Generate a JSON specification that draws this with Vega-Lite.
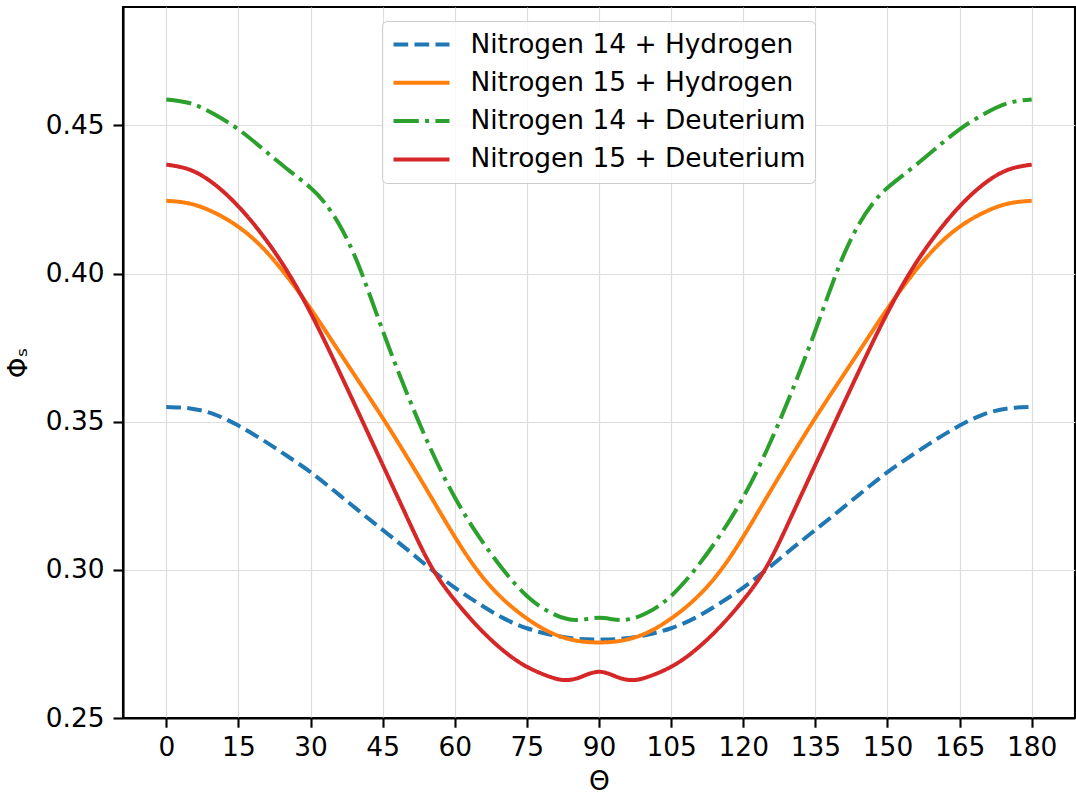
{
  "$schema": "https://vega.github.io/schema/vega-lite/v6.json",
  "width": 952,
  "height": 711,
  "autosize": {"type": "none"},
  "padding": {"left": 123, "top": 7, "right": 1, "bottom": 77},
  "background": "white",
  "config": {
    "font": "DejaVu Sans",
    "view": {"stroke": "black", "strokeWidth": 2.1},
    "axis": {
      "labelFont": "DejaVu Sans",
      "titleFont": "DejaVu Sans",
      "labelFontSize": 26.4,
      "titleFontSize": 26.4,
      "titleFontWeight": "normal",
      "labelColor": "black",
      "titleColor": "black",
      "domainColor": "black",
      "domainWidth": 2.1,
      "tickColor": "black",
      "tickWidth": 2.1,
      "tickSize": 9.2,
      "labelPadding": 7,
      "gridColor": "#dddddd",
      "gridWidth": 1.2
    }
  },
  "data": {
    "values": [
      {"theta": 0, "phi": 0.355, "series": "Nitrogen 14 + Hydrogen"},
      {"theta": 5, "phi": 0.3545, "series": "Nitrogen 14 + Hydrogen"},
      {"theta": 10, "phi": 0.3525, "series": "Nitrogen 14 + Hydrogen"},
      {"theta": 15, "phi": 0.3487, "series": "Nitrogen 14 + Hydrogen"},
      {"theta": 20, "phi": 0.3439, "series": "Nitrogen 14 + Hydrogen"},
      {"theta": 25, "phi": 0.3386, "series": "Nitrogen 14 + Hydrogen"},
      {"theta": 30, "phi": 0.333, "series": "Nitrogen 14 + Hydrogen"},
      {"theta": 35, "phi": 0.3266, "series": "Nitrogen 14 + Hydrogen"},
      {"theta": 40, "phi": 0.32, "series": "Nitrogen 14 + Hydrogen"},
      {"theta": 45, "phi": 0.3135, "series": "Nitrogen 14 + Hydrogen"},
      {"theta": 50, "phi": 0.307, "series": "Nitrogen 14 + Hydrogen"},
      {"theta": 55, "phi": 0.3003, "series": "Nitrogen 14 + Hydrogen"},
      {"theta": 60, "phi": 0.2940, "series": "Nitrogen 14 + Hydrogen"},
      {"theta": 65, "phi": 0.2886, "series": "Nitrogen 14 + Hydrogen"},
      {"theta": 70, "phi": 0.2838, "series": "Nitrogen 14 + Hydrogen"},
      {"theta": 75, "phi": 0.2803, "series": "Nitrogen 14 + Hydrogen"},
      {"theta": 80, "phi": 0.2781, "series": "Nitrogen 14 + Hydrogen"},
      {"theta": 85, "phi": 0.2768, "series": "Nitrogen 14 + Hydrogen"},
      {"theta": 90, "phi": 0.2765, "series": "Nitrogen 14 + Hydrogen"},
      {"theta": 95, "phi": 0.2768, "series": "Nitrogen 14 + Hydrogen"},
      {"theta": 100, "phi": 0.2781, "series": "Nitrogen 14 + Hydrogen"},
      {"theta": 105, "phi": 0.2803, "series": "Nitrogen 14 + Hydrogen"},
      {"theta": 110, "phi": 0.2838, "series": "Nitrogen 14 + Hydrogen"},
      {"theta": 115, "phi": 0.2886, "series": "Nitrogen 14 + Hydrogen"},
      {"theta": 120, "phi": 0.2940, "series": "Nitrogen 14 + Hydrogen"},
      {"theta": 125, "phi": 0.3003, "series": "Nitrogen 14 + Hydrogen"},
      {"theta": 130, "phi": 0.307, "series": "Nitrogen 14 + Hydrogen"},
      {"theta": 135, "phi": 0.3135, "series": "Nitrogen 14 + Hydrogen"},
      {"theta": 140, "phi": 0.32, "series": "Nitrogen 14 + Hydrogen"},
      {"theta": 145, "phi": 0.3266, "series": "Nitrogen 14 + Hydrogen"},
      {"theta": 150, "phi": 0.333, "series": "Nitrogen 14 + Hydrogen"},
      {"theta": 155, "phi": 0.3386, "series": "Nitrogen 14 + Hydrogen"},
      {"theta": 160, "phi": 0.3439, "series": "Nitrogen 14 + Hydrogen"},
      {"theta": 165, "phi": 0.3487, "series": "Nitrogen 14 + Hydrogen"},
      {"theta": 170, "phi": 0.3525, "series": "Nitrogen 14 + Hydrogen"},
      {"theta": 175, "phi": 0.3545, "series": "Nitrogen 14 + Hydrogen"},
      {"theta": 180, "phi": 0.355, "series": "Nitrogen 14 + Hydrogen"},

      {"theta": 0, "phi": 0.4246, "series": "Nitrogen 15 + Hydrogen"},
      {"theta": 5, "phi": 0.4236, "series": "Nitrogen 15 + Hydrogen"},
      {"theta": 10, "phi": 0.4206, "series": "Nitrogen 15 + Hydrogen"},
      {"theta": 15, "phi": 0.4158, "series": "Nitrogen 15 + Hydrogen"},
      {"theta": 20, "phi": 0.4088, "series": "Nitrogen 15 + Hydrogen"},
      {"theta": 25, "phi": 0.3993, "series": "Nitrogen 15 + Hydrogen"},
      {"theta": 30, "phi": 0.3882, "series": "Nitrogen 15 + Hydrogen"},
      {"theta": 35, "phi": 0.3760, "series": "Nitrogen 15 + Hydrogen"},
      {"theta": 40, "phi": 0.3637, "series": "Nitrogen 15 + Hydrogen"},
      {"theta": 45, "phi": 0.3513, "series": "Nitrogen 15 + Hydrogen"},
      {"theta": 50, "phi": 0.3383, "series": "Nitrogen 15 + Hydrogen"},
      {"theta": 55, "phi": 0.3248, "series": "Nitrogen 15 + Hydrogen"},
      {"theta": 60, "phi": 0.3112, "series": "Nitrogen 15 + Hydrogen"},
      {"theta": 65, "phi": 0.2992, "series": "Nitrogen 15 + Hydrogen"},
      {"theta": 70, "phi": 0.2902, "series": "Nitrogen 15 + Hydrogen"},
      {"theta": 75, "phi": 0.2836, "series": "Nitrogen 15 + Hydrogen"},
      {"theta": 80, "phi": 0.2788, "series": "Nitrogen 15 + Hydrogen"},
      {"theta": 85, "phi": 0.2762, "series": "Nitrogen 15 + Hydrogen"},
      {"theta": 90, "phi": 0.2755, "series": "Nitrogen 15 + Hydrogen"},
      {"theta": 95, "phi": 0.2762, "series": "Nitrogen 15 + Hydrogen"},
      {"theta": 100, "phi": 0.2788, "series": "Nitrogen 15 + Hydrogen"},
      {"theta": 105, "phi": 0.2836, "series": "Nitrogen 15 + Hydrogen"},
      {"theta": 110, "phi": 0.2902, "series": "Nitrogen 15 + Hydrogen"},
      {"theta": 115, "phi": 0.2992, "series": "Nitrogen 15 + Hydrogen"},
      {"theta": 120, "phi": 0.3112, "series": "Nitrogen 15 + Hydrogen"},
      {"theta": 125, "phi": 0.3248, "series": "Nitrogen 15 + Hydrogen"},
      {"theta": 130, "phi": 0.3383, "series": "Nitrogen 15 + Hydrogen"},
      {"theta": 135, "phi": 0.3513, "series": "Nitrogen 15 + Hydrogen"},
      {"theta": 140, "phi": 0.3637, "series": "Nitrogen 15 + Hydrogen"},
      {"theta": 145, "phi": 0.3760, "series": "Nitrogen 15 + Hydrogen"},
      {"theta": 150, "phi": 0.3882, "series": "Nitrogen 15 + Hydrogen"},
      {"theta": 155, "phi": 0.3993, "series": "Nitrogen 15 + Hydrogen"},
      {"theta": 160, "phi": 0.4088, "series": "Nitrogen 15 + Hydrogen"},
      {"theta": 165, "phi": 0.4158, "series": "Nitrogen 15 + Hydrogen"},
      {"theta": 170, "phi": 0.4206, "series": "Nitrogen 15 + Hydrogen"},
      {"theta": 175, "phi": 0.4236, "series": "Nitrogen 15 + Hydrogen"},
      {"theta": 180, "phi": 0.4246, "series": "Nitrogen 15 + Hydrogen"},

      {"theta": 0, "phi": 0.4588, "series": "Nitrogen 14 + Deuterium"},
      {"theta": 5, "phi": 0.4575, "series": "Nitrogen 14 + Deuterium"},
      {"theta": 10, "phi": 0.4538, "series": "Nitrogen 14 + Deuterium"},
      {"theta": 15, "phi": 0.4487, "series": "Nitrogen 14 + Deuterium"},
      {"theta": 20, "phi": 0.4422, "series": "Nitrogen 14 + Deuterium"},
      {"theta": 25, "phi": 0.4355, "series": "Nitrogen 14 + Deuterium"},
      {"theta": 30, "phi": 0.4290, "series": "Nitrogen 14 + Deuterium"},
      {"theta": 33, "phi": 0.4238, "series": "Nitrogen 14 + Deuterium"},
      {"theta": 36, "phi": 0.4165, "series": "Nitrogen 14 + Deuterium"},
      {"theta": 40, "phi": 0.4028, "series": "Nitrogen 14 + Deuterium"},
      {"theta": 45, "phi": 0.3808, "series": "Nitrogen 14 + Deuterium"},
      {"theta": 50, "phi": 0.3598, "series": "Nitrogen 14 + Deuterium"},
      {"theta": 55, "phi": 0.3408, "series": "Nitrogen 14 + Deuterium"},
      {"theta": 60, "phi": 0.3245, "series": "Nitrogen 14 + Deuterium"},
      {"theta": 65, "phi": 0.3113, "series": "Nitrogen 14 + Deuterium"},
      {"theta": 70, "phi": 0.3002, "series": "Nitrogen 14 + Deuterium"},
      {"theta": 75, "phi": 0.2912, "series": "Nitrogen 14 + Deuterium"},
      {"theta": 80, "phi": 0.2855, "series": "Nitrogen 14 + Deuterium"},
      {"theta": 85, "phi": 0.2831, "series": "Nitrogen 14 + Deuterium"},
      {"theta": 90, "phi": 0.2838, "series": "Nitrogen 14 + Deuterium"},
      {"theta": 95, "phi": 0.2831, "series": "Nitrogen 14 + Deuterium"},
      {"theta": 100, "phi": 0.2855, "series": "Nitrogen 14 + Deuterium"},
      {"theta": 105, "phi": 0.2912, "series": "Nitrogen 14 + Deuterium"},
      {"theta": 110, "phi": 0.3002, "series": "Nitrogen 14 + Deuterium"},
      {"theta": 115, "phi": 0.3113, "series": "Nitrogen 14 + Deuterium"},
      {"theta": 120, "phi": 0.3245, "series": "Nitrogen 14 + Deuterium"},
      {"theta": 125, "phi": 0.3408, "series": "Nitrogen 14 + Deuterium"},
      {"theta": 130, "phi": 0.3598, "series": "Nitrogen 14 + Deuterium"},
      {"theta": 135, "phi": 0.3808, "series": "Nitrogen 14 + Deuterium"},
      {"theta": 140, "phi": 0.4028, "series": "Nitrogen 14 + Deuterium"},
      {"theta": 144, "phi": 0.4165, "series": "Nitrogen 14 + Deuterium"},
      {"theta": 147, "phi": 0.4238, "series": "Nitrogen 14 + Deuterium"},
      {"theta": 150, "phi": 0.4290, "series": "Nitrogen 14 + Deuterium"},
      {"theta": 155, "phi": 0.4355, "series": "Nitrogen 14 + Deuterium"},
      {"theta": 160, "phi": 0.4422, "series": "Nitrogen 14 + Deuterium"},
      {"theta": 165, "phi": 0.4487, "series": "Nitrogen 14 + Deuterium"},
      {"theta": 170, "phi": 0.4538, "series": "Nitrogen 14 + Deuterium"},
      {"theta": 175, "phi": 0.4575, "series": "Nitrogen 14 + Deuterium"},
      {"theta": 180, "phi": 0.4588, "series": "Nitrogen 14 + Deuterium"},

      {"theta": 0, "phi": 0.4368, "series": "Nitrogen 15 + Deuterium"},
      {"theta": 5, "phi": 0.4350, "series": "Nitrogen 15 + Deuterium"},
      {"theta": 10, "phi": 0.4302, "series": "Nitrogen 15 + Deuterium"},
      {"theta": 15, "phi": 0.4227, "series": "Nitrogen 15 + Deuterium"},
      {"theta": 20, "phi": 0.4130, "series": "Nitrogen 15 + Deuterium"},
      {"theta": 25, "phi": 0.4012, "series": "Nitrogen 15 + Deuterium"},
      {"theta": 30, "phi": 0.3868, "series": "Nitrogen 15 + Deuterium"},
      {"theta": 35, "phi": 0.3703, "series": "Nitrogen 15 + Deuterium"},
      {"theta": 40, "phi": 0.3530, "series": "Nitrogen 15 + Deuterium"},
      {"theta": 45, "phi": 0.3355, "series": "Nitrogen 15 + Deuterium"},
      {"theta": 50, "phi": 0.3180, "series": "Nitrogen 15 + Deuterium"},
      {"theta": 55, "phi": 0.3015, "series": "Nitrogen 15 + Deuterium"},
      {"theta": 60, "phi": 0.2898, "series": "Nitrogen 15 + Deuterium"},
      {"theta": 65, "phi": 0.2805, "series": "Nitrogen 15 + Deuterium"},
      {"theta": 70, "phi": 0.2729, "series": "Nitrogen 15 + Deuterium"},
      {"theta": 75, "phi": 0.2673, "series": "Nitrogen 15 + Deuterium"},
      {"theta": 80, "phi": 0.2638, "series": "Nitrogen 15 + Deuterium"},
      {"theta": 83, "phi": 0.2628, "series": "Nitrogen 15 + Deuterium"},
      {"theta": 86, "phi": 0.2637, "series": "Nitrogen 15 + Deuterium"},
      {"theta": 90, "phi": 0.2656, "series": "Nitrogen 15 + Deuterium"},
      {"theta": 94, "phi": 0.2637, "series": "Nitrogen 15 + Deuterium"},
      {"theta": 97, "phi": 0.2628, "series": "Nitrogen 15 + Deuterium"},
      {"theta": 100, "phi": 0.2638, "series": "Nitrogen 15 + Deuterium"},
      {"theta": 105, "phi": 0.2673, "series": "Nitrogen 15 + Deuterium"},
      {"theta": 110, "phi": 0.2729, "series": "Nitrogen 15 + Deuterium"},
      {"theta": 115, "phi": 0.2805, "series": "Nitrogen 15 + Deuterium"},
      {"theta": 120, "phi": 0.2898, "series": "Nitrogen 15 + Deuterium"},
      {"theta": 125, "phi": 0.3015, "series": "Nitrogen 15 + Deuterium"},
      {"theta": 130, "phi": 0.3180, "series": "Nitrogen 15 + Deuterium"},
      {"theta": 135, "phi": 0.3355, "series": "Nitrogen 15 + Deuterium"},
      {"theta": 140, "phi": 0.3530, "series": "Nitrogen 15 + Deuterium"},
      {"theta": 145, "phi": 0.3703, "series": "Nitrogen 15 + Deuterium"},
      {"theta": 150, "phi": 0.3868, "series": "Nitrogen 15 + Deuterium"},
      {"theta": 155, "phi": 0.4012, "series": "Nitrogen 15 + Deuterium"},
      {"theta": 160, "phi": 0.4130, "series": "Nitrogen 15 + Deuterium"},
      {"theta": 165, "phi": 0.4227, "series": "Nitrogen 15 + Deuterium"},
      {"theta": 170, "phi": 0.4302, "series": "Nitrogen 15 + Deuterium"},
      {"theta": 175, "phi": 0.4350, "series": "Nitrogen 15 + Deuterium"},
      {"theta": 180, "phi": 0.4368, "series": "Nitrogen 15 + Deuterium"}
    ]
  },
  "mark": {"type": "line", "strokeWidth": 4, "interpolate": "natural", "strokeCap": "butt", "clip": true},
  "encoding": {
    "x": {
      "field": "theta",
      "type": "quantitative",
      "scale": {"domain": [-9, 189], "nice": false, "zero": false},
      "axis": {"title": "Θ", "values": [0, 15, 30, 45, 60, 75, 90, 105, 120, 135, 150, 165, 180], "titlePadding": 8}
    },
    "y": {
      "field": "phi",
      "type": "quantitative",
      "scale": {"domain": [0.25, 0.49], "nice": false, "zero": false},
      "axis": {"title": "Φₛ", "values": [0.25, 0.3, 0.35, 0.4, 0.45], "format": ".2f", "tickSize": 10, "labelPadding": 9, "titlePadding": 13}
    },
    "color": {
      "field": "series",
      "type": "nominal",
      "scale": {
        "domain": ["Nitrogen 14 + Hydrogen", "Nitrogen 15 + Hydrogen", "Nitrogen 14 + Deuterium", "Nitrogen 15 + Deuterium"],
        "range": ["#1f77b4", "#ff7f0e", "#2ca02c", "#d62728"]
      },
      "legend": {
        "title": null,
        "orient": "none",
        "legendX": 259,
        "legendY": 14,
        "direction": "vertical",
        "symbolType": "stroke",
        "symbolSize": 3136,
        "symbolStrokeWidth": 4,
        "labelFontSize": 26.4,
        "labelFont": "DejaVu Sans",
        "labelColor": "black",
        "labelOffset": 19,
        "labelLimit": 600,
        "padding": 9.5,
        "clipHeight": 28,
        "rowPadding": 10.3,
        "strokeColor": "#cccccc",
        "cornerRadius": 5,
        "fillColor": "rgba(255,255,255,0.8)"
      }
    },
    "strokeDash": {
      "field": "series",
      "type": "nominal",
      "scale": {
        "domain": ["Nitrogen 14 + Hydrogen", "Nitrogen 15 + Hydrogen", "Nitrogen 14 + Deuterium", "Nitrogen 15 + Deuterium"],
        "range": [[14.7, 6.3], [1, 0], [25.3, 6.3, 4, 6.3], [1, 0]]
      },
      "legend": null
    }
  }
}
